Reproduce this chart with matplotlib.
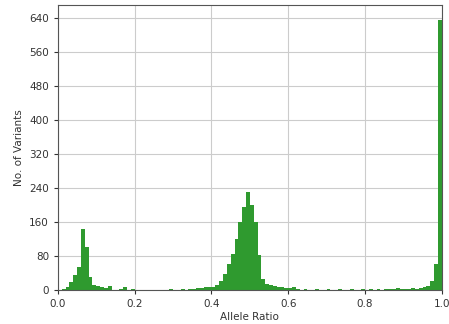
import numpy as np
import matplotlib
matplotlib.use("Agg")
import matplotlib.pyplot as plt

# Histogram counts for 100 bins of width 0.01 over [0, 1]
bin_edges = np.linspace(0.0, 1.0, 101)
counts = [
    0, 2, 7, 19, 35, 55, 143, 100, 30, 12,
    10, 8, 4, 9, 1, 0, 2, 8, 1, 2,
    0, 1, 0, 1, 0, 1, 1, 0, 1, 2,
    1, 1, 2, 1, 3, 2, 4, 5, 8, 6,
    8, 12, 22, 38, 60, 85, 120, 160, 195, 230,
    200, 160, 82, 25, 15, 12, 10, 8, 6, 5,
    4, 6, 2, 1, 2, 1, 1, 2, 1, 1,
    2, 1, 1, 2, 1, 1, 2, 1, 1, 2,
    1, 2, 1, 2, 1, 2, 3, 2, 4, 3,
    2, 3, 4, 3, 4, 6, 10, 20, 62, 635,
]
x_ticks = [0.0, 0.2, 0.4, 0.6, 0.8, 1.0]
y_ticks = [0, 80, 160, 240, 320, 400, 480, 560, 640]

fig = plt.figure(figsize=(4.49, 3.24), dpi=100)
ax = fig.add_axes([0.129, 0.105, 0.855, 0.880])
ax.bar(bin_edges[:-1], counts, width=np.diff(bin_edges), align="edge",
       color="#2f9a2f", edgecolor="none", zorder=2)
ax.set_xlim(0, 1)
ax.set_ylim(0, 670)
ax.set_xticks(x_ticks)
ax.set_yticks(y_ticks)
ax.grid(True, color="#cccccc", linewidth=0.8, zorder=0)
ax.set_axisbelow(True)
ax.tick_params(labelsize=7.5, colors="#333333", length=3)
ax.set_xlabel("Allele Ratio", fontsize=7.5, color="#333333", labelpad=2)
ax.set_ylabel("No. of Variants", fontsize=7.5, color="#333333", labelpad=4)
for s in ax.spines.values():
    s.set_color("#555555")
fig.savefig("out.png", dpi=100)
